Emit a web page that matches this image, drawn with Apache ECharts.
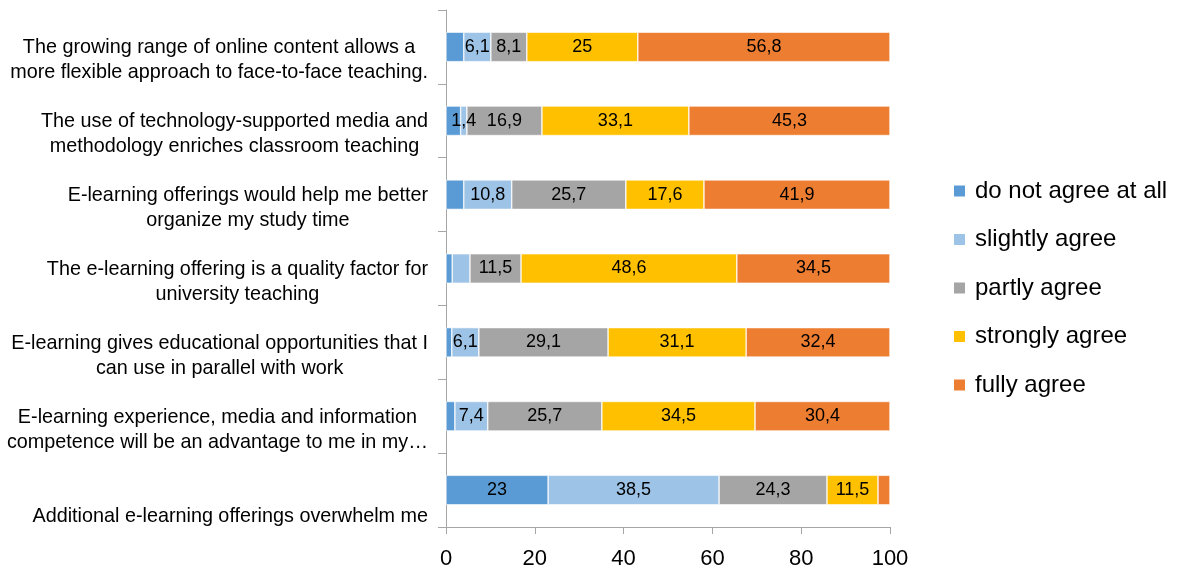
<!DOCTYPE html>
<html>
<head>
<meta charset="utf-8">
<script src="https://cdn.jsdelivr.net/npm/echarts@6/dist/echarts.min.js"></script>
<style>html,body{margin:0;padding:0;background:#fff}#c{width:1178px;height:574px}</style>
</head>
<body>
<div id="c"></div>
<script>
const categories = [
  "The growing range of online content allows a\nmore flexible approach to face-to-face teaching.",
  "The use of technology-supported media and\nmethodology enriches classroom teaching",
  "E-learning offerings would help me better\norganize my study time",
  "The e-learning offering is a quality factor for\nuniversity teaching",
  "E-learning gives educational opportunities that I\ncan use in parallel with work",
  "E-learning experience, media and information\ncompetence will be an advantage to me in my…",
  "Additional e-learning offerings overwhelm me"
];
const seriesNames = ["do not agree at all", "slightly agree", "partly agree", "strongly agree", "fully agree"];
const notAgree      = [4.0, 3.3, 4.0, 1.4, 1.3, 2.0, 23];
const slightlyAgree = [6.1, 1.4, 10.8, 4.0, 6.1, 7.4, 38.5];
const partlyAgree   = [8.1, 16.9, 25.7, 11.5, 29.1, 25.7, 24.3];
const stronglyAgree = [25, 33.1, 17.6, 48.6, 31.1, 34.5, 11.5];
const fullyAgree    = [56.8, 45.3, 41.9, 34.5, 32.4, 30.4, 2.7];
// category indices whose data label is not shown, per series
const hiddenLabels = [[0, 1, 2, 3, 4, 5], [3], [], [], [6]];
const xTicks = [0, 20, 40, 60, 80, 100];

const colors = ["#5B9BD5", "#9DC3E6", "#A5A5A5", "#FFC000", "#ED7D31"];
const values = [notAgree, slightlyAgree, partlyAgree, stronglyAgree, fullyAgree];
const FONT = "Liberation Sans";

const chart = echarts.init(document.getElementById('c'));
chart.setOption({
  animation: false,
  textStyle: { fontFamily: FONT },
  grid: { left: 446, right: 288, top: 10, bottom: 47, containLabel: false },
  legend: {
    orient: 'vertical',
    left: 947,
    top: 174,
    itemWidth: 13,
    itemHeight: 13,
    itemGap: 24.5,
    icon: 'rect',
    textStyle: { fontFamily: FONT, fontSize: 24, color: '#000', padding: [0, 0, 0, 4] },
    data: seriesNames
  },
  xAxis: {
    type: 'value',
    min: xTicks[0],
    max: xTicks[xTicks.length - 1],
    interval: 20,
    splitLine: { show: false },
    axisLine: { show: true, lineStyle: { color: '#A6A6A6', width: 1 } },
    axisTick: { show: true, length: 7, lineStyle: { color: '#A6A6A6' } },
    axisLabel: { fontSize: 22, color: '#000', margin: 21, fontFamily: FONT }
  },
  yAxis: {
    type: 'category',
    inverse: true,
    data: categories,
    axisLine: { show: true, lineStyle: { color: '#A6A6A6', width: 1 } },
    axisTick: { show: true, length: 8, lineStyle: { color: '#A6A6A6' } },
    axisLabel: {
      interval: 0,
      showMinLabel: true,
      showMaxLabel: true,
      hideOverlap: false,
      margin: 18,
      color: '#000',
      fontSize: 19.8,
      fontFamily: FONT,
      lineHeight: 25,
      padding: [27, 0, 0, 0],
      formatter: function (v) {
        let lines = v.split('\n');
        if (lines.length === 1) lines = ['', lines[0]];
        return lines.map(l => l ? '{c|' + l + '}' : '{c| }').join('\n');
      },
      rich: { c: { align: 'center', fontSize: 19.8, lineHeight: 25, color: '#000', fontFamily: FONT } }
    }
  },
  series: values.map((arr, si) => ({
    name: seriesNames[si],
    type: 'bar',
    stack: 'total',
    barWidth: '40%',
    itemStyle: { color: colors[si], borderColor: '#fff', borderWidth: 0.6 },
    label: {
      show: true,
      position: 'inside',
      color: '#000',
      fontSize: 18,
      fontFamily: FONT,
      formatter: function (p) {
        if (hiddenLabels[si].indexOf(p.dataIndex) >= 0) return '';
        return String(p.value).replace('.', ',');
      }
    },
    labelLayout: { hideOverlap: false },
    data: arr
  }))
});
</script>
</body>
</html>
